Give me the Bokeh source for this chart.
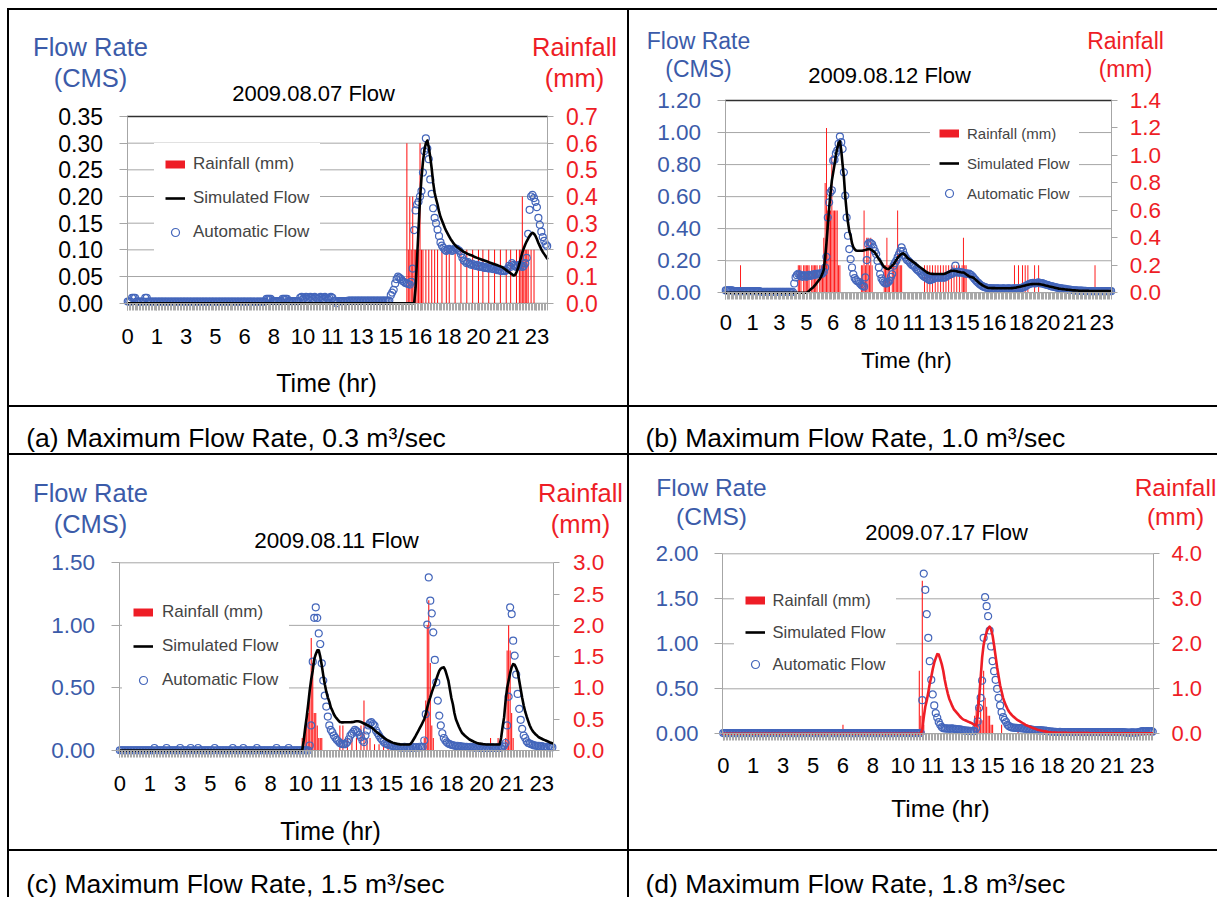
from bokeh.plotting import figure
from bokeh.models import (Range1d, LinearAxis, FixedTicker, Label, Legend, LegendItem, Div)
from bokeh.layouts import column, row
from bokeh.embed import file_html
from bokeh.resources import INLINE

FONT = "Liberation Sans"
BLUE = "#3B5BA9"
RED = "#EE1D26"
BAR = "#FF1010"
GRID = "#A6A6A6"
TICKC = "#A8A8A8"
DOT = "#4466BB"

N = 288                      # 5-minute steps over 24 h
KS = list(range(N))
X_TICKS = list(range(0, N, 20))
X_LABELS = ["0", "1", "3", "5", "6", "8", "10", "11", "13", "15", "16", "18", "20", "21", "23"]

# ---------------- (a) 2009.08.07 ----------------
A_LEFT = ["0.00", "0.05", "0.10", "0.15", "0.20", "0.25", "0.30", "0.35"]
A_RIGHT = ["0.0", "0.1", "0.2", "0.3", "0.4", "0.5", "0.6", "0.7"]
rain_a = [0.0]*191 + [
    0.6, 0.2, 0.4, 0.2, 0.4, 0.2, 0.2, 0.2, 0.2, 0.6,
    0.2, 0.2, 0, 0.2, 0, 0.2, 0, 0.2, 0, 0.2,
    0, 0.2, 0, 0, 0.2, 0, 0, 0.2, 0, 0.2,
    0, 0, 0, 0.2, 0, 0, 0, 0.2, 0, 0,
    0, 0.2, 0, 0, 0, 0.2, 0, 0, 0, 0.2,
    0, 0, 0.2, 0, 0, 0, 0.2, 0, 0, 0,
    0.2, 0, 0, 0, 0.2, 0, 0, 0, 0.2, 0,
    0, 0.2, 0, 0, 0, 0.2, 0, 0.2, 0.2, 0.4,
    0.2, 0.2, 0.2, 0.2, 0, 0.2, 0, 0.2, 0, 0,
    0, 0, 0, 0, 0, 0, 0]
sim_a = [0.0]*197 + [
    0.03, 0.085, 0.14, 0.195, 0.235, 0.265, 0.287, 0.3, 0.305, 0.292,
    0.274, 0.252, 0.226, 0.207, 0.195, 0.185, 0.172, 0.162, 0.155, 0.148,
    0.141, 0.135, 0.13, 0.125, 0.12, 0.116, 0.112, 0.109, 0.106, 0.104,
    0.102, 0.1, 0.098, 0.096, 0.095, 0.093, 0.092, 0.091, 0.09, 0.089,
    0.087, 0.086, 0.085, 0.084, 0.083, 0.082, 0.081, 0.08, 0.079, 0.078,
    0.077, 0.076, 0.075, 0.074, 0.073, 0.072, 0.071, 0.07, 0.069, 0.068,
    0.066, 0.064, 0.062, 0.06, 0.058, 0.056, 0.054, 0.052, 0.053, 0.058,
    0.065, 0.074, 0.085, 0.095, 0.103, 0.11, 0.116, 0.121, 0.126, 0.13,
    0.132, 0.13, 0.126, 0.12, 0.113, 0.107, 0.101, 0.096, 0.092, 0.088,
    0.084]
auto_a = ([0.003]*3 + [0.01]*3 + [0.003]*6 + [0.01]*2 + [0.003]*81 + [0.008]*4
          + [0.004]*7 + [0.008]*4 + [0.004]*8
          + [0.01, 0.012, 0.008, 0.01, 0.012, 0.008, 0.01, 0.012, 0.01, 0.008, 0.012, 0.01,
             0.008, 0.01, 0.012, 0.01, 0.008, 0.012, 0.01, 0.008, 0.01, 0.012, 0.01]
          + [0.004, 0.004, 0.0] + [0.004]*7 + [0.005]*29 + [
    0.015, 0.02, 0.025, 0.037, 0.045, 0.05, 0.048, 0.045, 0.042, 0.04,
    0.038, 0.037, 0.036, 0.035, 0.04, 0.065, 0.137, 0.174, 0.185, 0.19,
    0.2, 0.21, 0.245, 0.285, 0.309, 0.29, 0.27, 0.232, 0.205, 0.178,
    0.16, 0.15, 0.138, 0.126, 0.114, 0.108, 0.104, 0.1, 0.098, 0.1,
    0.102, 0.1, 0.098, 0.1, 0.103, 0.102, 0.1, 0.098, 0.092, 0.085,
    0.08, 0.078, 0.075, 0.077, 0.074, 0.072, 0.074, 0.071, 0.07, 0.072,
    0.069, 0.068, 0.07, 0.068, 0.066, 0.068, 0.066, 0.065, 0.067, 0.065,
    0.064, 0.066, 0.064, 0.062, 0.063, 0.061, 0.06, 0.062, 0.06, 0.062,
    0.065, 0.07, 0.068, 0.075, 0.072, 0.07, 0.068, 0.07, 0.072, 0.07,
    0.068, 0.07, 0.075, 0.085, 0.13, 0.175, 0.2, 0.203, 0.197, 0.19,
    0.18, 0.16, 0.147, 0.134, 0.124, 0.117, 0.11, 0.107])

# ---------------- (b) 2009.08.12 ----------------
B_LEFT = ["0.00", "0.20", "0.40", "0.60", "0.80", "1.00", "1.20"]
B_RIGHT = ["0.0", "0.2", "0.4", "0.6", "0.8", "1.0", "1.2", "1.4"]
rain_b = ([0.0]*11 + [0.2] + [0.0]*42 + [
    0.2, 0.2, 0.2, 0, 0.2, 0.2, 0.2, 0.2, 0.2, 0, 0.2, 0.2, 0.2, 0.2, 0.2, 0,
    0.2, 0.2, 0.2, 0.4, 0.8, 1.2, 0.6, 0.6, 0.6, 1.0, 0.6, 0.6, 0.6, 0.6, 0.2, 0.2]
    + [0.0]*15 + [0.2, 0.2, 0.6, 0.2, 0.4, 0.4, 0.2, 0.4, 0.2]
    + [0.0]*8 + [0.2, 0.2, 0.4, 0.2, 0.2, 0, 0.2, 0.2, 0.2, 0.2, 0.6, 0.2, 0.2, 0.2]
    + [0.0]*16 + [0.2, 0, 0.2, 0, 0.2, 0, 0.2, 0, 0.2, 0, 0.2, 0, 0.2, 0, 0.2, 0,
                  0.2, 0, 0.2, 0, 0.2, 0, 0.2, 0, 0.2, 0, 0.2, 0, 0.2, 0.4, 0.2, 0.2]
    + [0.0]*35 + [0.2, 0, 0, 0.2, 0, 0, 0.2, 0, 0.2, 0, 0.2, 0, 0, 0, 0, 0.2, 0, 0, 0.2]
    + [0.0]*41 + [0.2] + [0.0]*12)
sim_b = [0.0]*61 + [
    0.005, 0.012, 0.02, 0.027, 0.033, 0.043, 0.053, 0.064, 0.075, 0.085,
    0.1, 0.12, 0.145, 0.22, 0.31, 0.42, 0.53, 0.62, 0.7, 0.75,
    0.8, 0.86, 0.9, 0.935, 0.946, 0.89, 0.8, 0.72, 0.6, 0.51,
    0.44, 0.385, 0.356, 0.31, 0.285, 0.272, 0.264, 0.262, 0.262, 0.262,
    0.262, 0.263, 0.265, 0.267, 0.27, 0.272, 0.273, 0.27, 0.265, 0.258,
    0.252, 0.238, 0.224, 0.21, 0.2, 0.186, 0.172, 0.16, 0.155, 0.15,
    0.148, 0.152, 0.162, 0.17, 0.179, 0.19, 0.205, 0.218, 0.228, 0.237,
    0.243, 0.246, 0.24, 0.232, 0.221, 0.214, 0.208, 0.202, 0.196, 0.19,
    0.184, 0.177, 0.171, 0.164, 0.158, 0.152, 0.146, 0.139, 0.133, 0.127,
    0.124, 0.121, 0.119, 0.118, 0.117, 0.117, 0.117, 0.117, 0.117, 0.117,
    0.117, 0.117, 0.119, 0.122, 0.126, 0.13, 0.134, 0.137, 0.138, 0.138,
    0.136, 0.134, 0.132, 0.13, 0.128, 0.127, 0.127, 0.122, 0.116, 0.11,
    0.104, 0.1, 0.098, 0.096, 0.09, 0.082, 0.075, 0.068, 0.06, 0.054,
    0.048, 0.043, 0.039, 0.035, 0.032, 0.03, 0.03, 0.029, 0.029, 0.029,
    0.028, 0.028, 0.028, 0.028, 0.028, 0.028, 0.028, 0.028, 0.028, 0.028,
    0.028, 0.028, 0.029, 0.03, 0.031, 0.032, 0.034, 0.036, 0.038, 0.04,
    0.042, 0.044, 0.046, 0.048, 0.05, 0.052, 0.053, 0.054, 0.055, 0.055,
    0.055, 0.055, 0.054, 0.053, 0.052, 0.05, 0.048, 0.046, 0.044, 0.042,
    0.04, 0.038, 0.036, 0.034, 0.032, 0.03, 0.028, 0.026, 0.025, 0.024,
    0.023, 0.022, 0.021, 0.02, 0.019, 0.018, 0.017, 0.016, 0.015, 0.015,
    0.014, 0.014, 0.013, 0.013, 0.013, 0.012, 0.012, 0.012, 0.012, 0.012,
    0.011, 0.011, 0.011, 0.011, 0.011, 0.011, 0.011, 0.011, 0.011, 0.011,
    0.011, 0.011, 0.011, 0.011, 0.011, 0.011, 0.011]
auto_b = [0.015]*6 + [0.01]*20 + [0.006]*25 + [
    0.058, 0.096, 0.11, 0.119, 0.112, 0.105, 0.1, 0.11, 0.105, 0.1,
    0.108, 0.112, 0.105, 0.11, 0.115, 0.11, 0.118, 0.115, 0.12, 0.118,
    0.122, 0.12, 0.13, 0.158, 0.225, 0.47, 0.564, 0.627, 0.64, 0.825,
    0.83, 0.87, 0.887, 0.93, 0.975, 0.94, 0.898, 0.752, 0.606, 0.47,
    0.356, 0.273, 0.21, 0.158, 0.117, 0.092, 0.08, 0.072, 0.069, 0.058,
    0.048, 0.042, 0.038, 0.096, 0.204, 0.304, 0.314, 0.31, 0.304, 0.283,
    0.26, 0.242, 0.2, 0.158, 0.117, 0.09, 0.075, 0.065, 0.058, 0.06,
    0.068, 0.075, 0.1, 0.117, 0.169, 0.185, 0.2, 0.221, 0.24, 0.26,
    0.283, 0.26, 0.235, 0.22, 0.205, 0.2, 0.19, 0.18, 0.172, 0.169,
    0.16, 0.148, 0.14, 0.135, 0.125, 0.115, 0.106, 0.1, 0.095, 0.09,
    0.085, 0.079, 0.082, 0.085, 0.09, 0.095, 0.096, 0.095, 0.095, 0.096,
    0.094, 0.096, 0.095, 0.1, 0.105, 0.11, 0.115, 0.118, 0.12, 0.13,
    0.169, 0.13, 0.125, 0.13, 0.125, 0.128, 0.125, 0.12, 0.122, 0.118,
    0.12, 0.115, 0.11, 0.1, 0.09, 0.08, 0.07, 0.062, 0.055, 0.048,
    0.042, 0.038, 0.035, 0.032, 0.03, 0.03, 0.028, 0.028, 0.027, 0.027,
    0.026, 0.027, 0.028, 0.026, 0.025, 0.027, 0.028, 0.026, 0.025, 0.027,
    0.028, 0.026, 0.025, 0.027, 0.028, 0.026, 0.027, 0.028, 0.03, 0.03,
    0.032, 0.035, 0.04, 0.045, 0.05, 0.055, 0.058, 0.06, 0.062, 0.058,
    0.06, 0.062, 0.065, 0.06, 0.058, 0.06, 0.055, 0.052, 0.05, 0.048,
    0.045, 0.042, 0.04, 0.038, 0.036, 0.034, 0.032, 0.03, 0.028, 0.027,
    0.026, 0.025, 0.024, 0.022, 0.02, 0.02, 0.018, 0.017, 0.016, 0.015,
    0.015, 0.014, 0.014, 0.013, 0.013, 0.012, 0.012, 0.012, 0.011, 0.011,
    0.011, 0.01, 0.01, 0.01, 0.01, 0.01, 0.01, 0.01, 0.01, 0.01,
    0.01, 0.01, 0.01, 0.01, 0.01, 0.01, 0.01]

# ---------------- (c) 2009.08.11 ----------------
C_LEFT = ["0.00", "0.50", "1.00", "1.50"]
C_RIGHT = ["0.0", "0.5", "1.0", "1.5", "2.0", "2.5", "3.0"]
rain_c = ([0.0]*121 + [0.2, 0.2, 0.4, 0.6, 0.6, 1.0, 1.8, 1.4, 0.6, 0.6, 0.4, 0.2, 0.2, 0.2]
          + [0.0]*11 + [0.4, 0, 0.4, 0, 0, 0.2, 0, 0, 0.2, 0, 0, 0.2, 0, 0, 0.4, 0, 0.8, 0,
                        0.2, 0, 0.2, 0, 0, 0.1, 0, 0, 0.1, 0, 0, 0.1, 0, 0, 0.1, 0, 0, 0.1]
          + [0.0]*20 + [0.2, 0.8, 2.0, 2.4, 1.4, 0.4, 0.2]
          + [0.0]*37 + [0.2, 0, 0, 0, 0, 0.2, 0, 0, 0, 0, 0.2, 1.6, 2.0, 1.6, 0.6, 0.2]
          + [0.0]*26)
sim_c = [0.0]*122 + [
    0.08, 0.18, 0.27, 0.37, 0.48, 0.57, 0.64, 0.73, 0.77, 0.8,
    0.8, 0.75, 0.68, 0.6, 0.53, 0.47, 0.425, 0.39, 0.345, 0.32,
    0.29, 0.27, 0.255, 0.24, 0.228, 0.225, 0.225, 0.226, 0.226, 0.226,
    0.226, 0.226, 0.227, 0.228, 0.232, 0.234, 0.234, 0.232, 0.228, 0.222,
    0.216, 0.21, 0.204, 0.198, 0.19, 0.184, 0.174, 0.163, 0.152, 0.142,
    0.133, 0.123, 0.113, 0.104, 0.095, 0.087, 0.08, 0.074, 0.068, 0.063,
    0.059, 0.056, 0.053, 0.051, 0.049, 0.048, 0.048, 0.048, 0.048, 0.048,
    0.048, 0.053, 0.07, 0.09, 0.11, 0.133, 0.155, 0.178, 0.2, 0.226,
    0.25, 0.29, 0.345, 0.39, 0.425, 0.465, 0.5, 0.532, 0.57, 0.605,
    0.638, 0.655, 0.662, 0.665, 0.64, 0.6, 0.559, 0.49, 0.42, 0.37,
    0.3, 0.25, 0.22, 0.19, 0.165, 0.142, 0.13, 0.118, 0.108, 0.098,
    0.088, 0.082, 0.076, 0.07, 0.065, 0.06, 0.057, 0.055, 0.053, 0.051,
    0.05, 0.048, 0.048, 0.048, 0.048, 0.048, 0.048, 0.048, 0.048, 0.048,
    0.048, 0.1, 0.19, 0.266, 0.4, 0.5, 0.56, 0.62, 0.665, 0.69,
    0.685, 0.66, 0.63, 0.56, 0.49, 0.42, 0.36, 0.31, 0.27, 0.235,
    0.2, 0.175, 0.155, 0.14, 0.127, 0.117, 0.106, 0.1, 0.094, 0.088,
    0.083, 0.078, 0.073, 0.066, 0.062, 0.058]
auto_c = ([0.002]*23 + [0.02] + [0.002]*7 + [0.02] + [0.002]*8 + [0.02] + [0.002]*6 + [0.02]
          + [0.002]*4 + [0.02] + [0.002]*10 + [0.02] + [0.002]*11 + [0.02] + [0.002]*6 + [0.02]
          + [0.002]*8 + [0.02] + [0.002]*12 + [0.02] + [0.002]*7 + [0.02] + [0.002]*13 + [
    0.04, 0.2, 0.71, 1.06, 1.144, 1.06, 0.936, 0.851, 0.697, 0.559,
    0.439, 0.351, 0.271, 0.2, 0.165, 0.146, 0.12, 0.101, 0.085, 0.074,
    0.06, 0.053, 0.05, 0.05, 0.055, 0.067, 0.09, 0.12, 0.133, 0.15,
    0.165, 0.155, 0.146, 0.125, 0.106, 0.08, 0.067, 0.12, 0.16, 0.2,
    0.218, 0.226, 0.21, 0.2, 0.16, 0.14, 0.12, 0.1, 0.085, 0.07,
    0.058, 0.052, 0.046, 0.042, 0.04, 0.036, 0.03, 0.028, 0.03, 0.025,
    0.028, 0.022, 0.025, 0.03, 0.022, 0.028, 0.025, 0.02, 0.03, 0.022,
    0.025, 0.028, 0.022, 0.03, 0.025, 0.03, 0.08, 0.29, 1.006, 1.383,
    1.197, 1.096, 0.944, 0.724, 0.545, 0.399, 0.279, 0.2, 0.138, 0.1,
    0.08, 0.065, 0.055, 0.05, 0.045, 0.042, 0.04, 0.035, 0.038, 0.03,
    0.035, 0.03, 0.032, 0.028, 0.03, 0.025, 0.028, 0.03, 0.025, 0.022,
    0.025, 0.028, 0.022, 0.025, 0.02, 0.025, 0.022, 0.02, 0.025, 0.022,
    0.02, 0.025, 0.022, 0.02, 0.022, 0.025, 0.02, 0.022, 0.03, 0.04,
    0.06, 0.2, 0.43, 1.144, 1.09, 0.878, 0.758, 0.607, 0.452, 0.333,
    0.245, 0.173, 0.12, 0.1, 0.074, 0.06, 0.055, 0.05, 0.045, 0.04,
    0.04, 0.035, 0.038, 0.03, 0.035, 0.03, 0.028, 0.03, 0.025, 0.035,
    0.03, 0.025])

# ---------------- (d) 2009.07.17 ----------------
D_LEFT = ["0.00", "0.50", "1.00", "1.50", "2.00"]
D_RIGHT = ["0.0", "1.0", "2.0", "3.0", "4.0"]
rain_d = ([0.0]*80 + [0.2] + [0.0]*50 + [1.4, 0.4, 3.4, 0.2] + [0.0]*33
          + [0.4, 0.6, 0.8, 0.3, 0.6, 0.3, 1.4, 0.8, 0.6, 0.4, 0.4, 0.2, 0.2]
          + [0.0]*5 + [0.2] + [0.0]*10 + [0.1] + [0.0]*90)
sim_d = [0.0]*133 + [
    0.05, 0.185, 0.3, 0.37, 0.46, 0.56, 0.63, 0.72, 0.79, 0.84,
    0.885, 0.88, 0.83, 0.774, 0.7, 0.6, 0.52, 0.45, 0.39, 0.35,
    0.31, 0.275, 0.255, 0.235, 0.215, 0.195, 0.178, 0.163, 0.155, 0.148,
    0.14, 0.133, 0.126, 0.118, 0.108, 0.098, 0.092, 0.2, 0.4, 0.62,
    0.85, 0.99, 1.07, 1.13, 1.17, 1.19, 1.16, 1.09, 0.98, 0.86,
    0.74, 0.64, 0.54, 0.47, 0.4, 0.35, 0.31, 0.275, 0.245, 0.225,
    0.205, 0.19, 0.175, 0.16, 0.15, 0.14, 0.13, 0.12, 0.11, 0.1,
    0.092, 0.085, 0.078, 0.071, 0.065, 0.058, 0.052, 0.046, 0.041, 0.037,
    0.033, 0.03, 0.027, 0.024, 0.021, 0.018, 0.016, 0.015, 0.014, 0.013,
    0.012, 0.012, 0.011, 0.011, 0.01, 0.01, 0.01, 0.009, 0.009, 0.009,
    0.009, 0.008, 0.008, 0.008, 0.008, 0.008, 0.007, 0.007, 0.007, 0.007,
    0.007, 0.007, 0.006, 0.006, 0.006, 0.006, 0.006, 0.006, 0.006, 0.006,
    0.006, 0.006] + [0.005]*33
auto_d = [0.008]*132 + [
    0.01, 0.374, 1.78, 1.6, 1.33, 1.066, 0.807, 0.6, 0.437, 0.315,
    0.23, 0.18, 0.13, 0.1, 0.075, 0.063, 0.06, 0.058, 0.06, 0.055,
    0.058, 0.06, 0.055, 0.055, 0.052, 0.05, 0.05, 0.048, 0.04, 0.038,
    0.035, 0.035, 0.033, 0.033, 0.03, 0.03, 0.03, 0.06, 0.137, 0.289,
    0.4, 0.59, 1.066, 1.518, 1.418, 1.307, 1.148, 0.97, 0.807, 0.696,
    0.6, 0.5, 0.4, 0.315, 0.24, 0.185, 0.155, 0.13, 0.1, 0.085,
    0.075, 0.07, 0.068, 0.065, 0.066, 0.064, 0.062, 0.063, 0.06, 0.058,
    0.056, 0.055, 0.052, 0.05, 0.048, 0.045, 0.042, 0.04, 0.04, 0.038,
    0.04, 0.038, 0.036, 0.035, 0.033, 0.03, 0.028, 0.025, 0.025, 0.022,
    0.022, 0.02, 0.02, 0.022, 0.02, 0.018, 0.02, 0.02, 0.018, 0.02,
    0.02, 0.018, 0.02, 0.02, 0.018, 0.02, 0.02, 0.018, 0.02, 0.02,
    0.018, 0.02, 0.02, 0.018, 0.02, 0.02, 0.018, 0.02, 0.02, 0.018,
    0.02, 0.02, 0.018, 0.02, 0.02, 0.018, 0.02, 0.02, 0.018, 0.02,
    0.02, 0.018, 0.02, 0.02, 0.018, 0.02, 0.015, 0.015, 0.012, 0.012,
    0.012, 0.015, 0.015, 0.012, 0.012, 0.015, 0.02, 0.025, 0.03, 0.03,
    0.025, 0.03, 0.03, 0.025, 0.03, 0.025]

TITLES = ["2009.08.07 Flow", "2009.08.12 Flow", "2009.08.11 Flow", "2009.07.17 Flow"]
CAPTIONS = ["(a) Maximum Flow Rate, 0.3 m\u00b3/sec", "(b) Maximum Flow Rate, 1.0 m\u00b3/sec",
            "(c) Maximum Flow Rate, 1.5 m\u00b3/sec", "(d) Maximum Flow Rate, 1.8 m\u00b3/sec"]

for name, arr in [("rain_a", rain_a), ("sim_a", sim_a), ("auto_a", auto_a),
                  ("rain_b", rain_b), ("sim_b", sim_b), ("auto_b", auto_b),
                  ("rain_c", rain_c), ("sim_c", sim_c), ("auto_c", auto_c),
                  ("rain_d", rain_d), ("sim_d", sim_d), ("auto_d", auto_d)]:
    if len(arr) != N:
        raise SystemExit(f"{name} has {len(arr)} values")

# page geometry (pixels). frame = plot-area edges (left, right, top, bottom)
PANELS = [
    dict(ox=9, oy=10, W=618, H=395, frame=(126.5, 547.4, 116, 302.7),
         left=A_LEFT, right=A_RIGHT, rain=rain_a, sim=sim_a, auto=auto_a, simc="black",
         lcol="black", title=TITLES[0], topdark=True,
         flow=(90, 46, 77), rainlab=(574, 46, 77), tpos=(313, 93), xlab=(326, 382),
         fs_ax=25.5, fs_t=22, fs_x=25, fs_tick=23, fs_leg=17, ls=16, rs=12, xs=19,
         leg=(154, 253, 10, 14, 8)),
    dict(ox=629, oy=10, W=588, H=395, frame=(724.6, 1111.3, 100, 292.3),
         left=B_LEFT, right=B_RIGHT, rain=rain_b, sim=sim_b, auto=auto_b, simc="black",
         lcol=BLUE, title=TITLES[1], topdark=True,
         flow=(698, 40, 68), rainlab=(1125, 40, 68), tpos=(889, 75), xlab=(906, 360),
         fs_ax=23, fs_t=22, fs_x=22.5, fs_tick=22.5, fs_leg=15, ls=16, rs=12, xs=15,
         leg=(930, 212, 8, 10, 8)),
    dict(ox=9, oy=455, W=618, H=394, frame=(118.6, 552.6, 562.3, 750),
         left=C_LEFT, right=C_RIGHT, rain=rain_c, sim=sim_c, auto=auto_c, simc="black",
         lcol=BLUE, title=TITLES[2], topdark=False,
         flow=(90, 492, 523), rainlab=(580, 492, 523), tpos=(336, 540), xlab=(330, 830),
         fs_ax=25.5, fs_t=22.5, fs_x=25, fs_tick=22.5, fs_leg=17, ls=16, rs=14, xs=18,
         leg=(122, 701, 10, 14, 9)),
    dict(ox=629, oy=455, W=588, H=394, frame=(722, 1153, 553.3, 733.3),
         left=D_LEFT, right=D_RIGHT, rain=rain_d, sim=sim_d, auto=auto_d, simc=RED,
         lcol=BLUE, title=TITLES[3], topdark=False,
         flow=(711, 487, 516), rainlab=(1175, 487, 516), tpos=(946, 532), xlab=(940, 808),
         fs_ax=24.5, fs_t=22, fs_x=24.5, fs_tick=22, fs_leg=16.5, ls=16, rs=12, xs=17,
         leg=(733.6, 685, 10, 12, 8)),
]


def chart(c):
    ox, oy, W, H = c["ox"], c["oy"], c["W"], c["H"]
    fl, fr, ft, fb = c["frame"]
    yv = [float(s) for s in c["left"]]
    rv = [float(s) for s in c["right"]]
    ymax, rmax = yv[-1], rv[-1]
    # whole canvas is the frame; the plot area sits inside it via the ranges
    sx = (fr - fl) / N
    x0 = -0.5 - (fl - ox) / sx
    sy = (fb - ft) / ymax
    y0 = -(oy + H - fb) / sy
    sr = (fb - ft) / rmax
    r0 = -(oy + H - fb) / sr
    p = figure(width=W, height=H, x_range=Range1d(x0, x0 + W / sx),
               y_range=Range1d(y0, y0 + H / sy), output_backend="svg",
               toolbar_location=None, x_axis_location=None, y_axis_location=None,
               min_border=0, outline_line_color=None,
               background_fill_color="white", border_fill_color="white")
    p.grid.visible = False
    p.extra_y_ranges = {"rain": Range1d(r0, r0 + H / sr)}
    xa0, xa1 = -0.5, N - 0.5

    # horizontal grid lines at the left-axis ticks
    p.segment(x0=[xa0]*len(yv), x1=[xa1]*len(yv), y0=yv, y1=yv,
              line_color=GRID, line_width=1)

    la = LinearAxis(fixed_location=xa0, bounds=(0, ymax), ticker=FixedTicker(ticks=yv),
                    major_label_overrides=dict(zip(yv, c["left"])),
                    axis_line_color=GRID, major_tick_line_color=GRID, major_tick_out=8,
                    major_tick_in=0, minor_tick_line_color=None,
                    major_label_text_font=FONT, major_label_text_font_size=f"{c['fs_tick']}px",
                    major_label_text_color=c["lcol"], major_label_standoff=c["ls"])
    p.add_layout(la, "left")
    ra = LinearAxis(y_range_name="rain", fixed_location=xa1, bounds=(0, rmax),
                    ticker=FixedTicker(ticks=rv),
                    major_label_overrides=dict(zip(rv, c["right"])),
                    axis_line_color=GRID, major_tick_line_color=GRID, major_tick_out=6,
                    major_tick_in=0, minor_tick_line_color=None,
                    major_label_text_font=FONT, major_label_text_font_size=f"{c['fs_tick']}px",
                    major_label_text_color=RED, major_label_standoff=c["rs"])
    p.add_layout(ra, "right")
    xa = LinearAxis(fixed_location=0, bounds=(xa0, xa1),
                    ticker=FixedTicker(ticks=X_TICKS, minor_ticks=KS),
                    major_label_overrides=dict(zip(X_TICKS, X_LABELS)),
                    axis_line_color=GRID, major_tick_line_color=TICKC, minor_tick_line_color=TICKC,
                    major_tick_out=7, major_tick_in=0, minor_tick_out=7, minor_tick_in=0,
                    major_label_text_font=FONT, major_label_text_font_size="22px",
                    major_label_text_color="black", major_label_standoff=c["xs"])
    p.add_layout(xa, "below")
    if c["topdark"]:
        # dark upper border of the plot area, drawn as a bounded segment
        p.segment(x0=[xa0], x1=[xa1], y0=[ymax], y1=[ymax],
                  line_color="#303030", line_width=1.5)

    rk = [k for k in KS if c["rain"][k] > 0]
    p.vbar(x=rk, top=[c["rain"][k] for k in rk], width=0.7, bottom=0,
           y_range_name="rain", fill_color=BAR, line_color=None)
    sc = p.scatter(KS, c["auto"], marker="circle", size=7, fill_color=None,
                   line_color=DOT, line_width=1.2)
    p.line(KS, c["sim"], line_color=c["simc"], line_width=2.6,
           line_join="round", line_cap="round")

    # legend swatches (kept outside the visible ranges so only the legend shows them)
    off_x = [x0 - 20, x0 - 10]
    off_y = [y0 - 10, y0 - 10]
    dr = p.line(x=off_x, y=off_y, line_color=RED, line_width=8)
    ds = p.line(x=off_x, y=off_y, line_color="black", line_width=2.6)
    lx, lb, pad, sp, st = c["leg"]
    leg = Legend(items=[LegendItem(label="Rainfall (mm)", renderers=[dr]),
                        LegendItem(label="Simulated Flow", renderers=[ds]),
                        LegendItem(label="Automatic Flow", renderers=[sc])],
                 location=(lx - ox, oy + H - lb), padding=pad, spacing=sp,
                 glyph_width=20, glyph_height=20, label_height=20, label_standoff=st,
                 label_text_font=FONT, label_text_font_size=f"{c['fs_leg']}px",
                 border_line_color="white", border_line_width=1,
                 background_fill_color="white", background_fill_alpha=1.0, margin=0)
    p.add_layout(leg)

    def lab(X, Y, text, size, color):
        p.add_layout(Label(x=X - ox, y=oy + H - Y, x_units="screen", y_units="screen",
                           text=text, text_align="center", text_baseline="middle",
                           text_font=FONT, text_font_size=f"{size}px", text_color=color))

    X, y1, y2 = c["flow"]
    lab(X, y1, "Flow Rate", c["fs_ax"], BLUE)
    lab(X, y2, "(CMS)", c["fs_ax"], BLUE)
    X, y1, y2 = c["rainlab"]
    lab(X, y1, "Rainfall", c["fs_ax"], RED)
    lab(X, y2, "(mm)", c["fs_ax"], RED)
    lab(c["tpos"][0], c["tpos"][1], c["title"], c["fs_t"], "black")
    lab(c["xlab"][0], c["xlab"][1], "Time (hr)", c["fs_x"], "black")
    return p


def caption(w, h, text, x, y_from_top):
    p = figure(width=w, height=h, output_backend="svg", toolbar_location=None,
               x_axis_location=None, y_axis_location=None, min_border=0,
               background_fill_color="white", border_fill_color="white",
               outline_line_color=None, x_range=Range1d(0, w), y_range=Range1d(0, h))
    p.grid.visible = False
    p.add_layout(Label(x=x, y=h - y_from_top, x_units="screen", y_units="screen", text=text,
                       text_align="left", text_baseline="middle", text_font=FONT,
                       text_font_size="26.5px", text_color="black"))
    return p


def box(w, h, color=None):
    styles = {"background-color": color} if color else {}
    return Div(text="", width=w, height=h, margin=0, styles=styles)


def hline():
    return row(box(7, 2), box(1210, 2, "black"))


figs = [chart(c) for c in PANELS]
layout = column(
    box(1217, 8),
    hline(),
    row(box(7, 395), box(2, 395, "black"), figs[0], box(2, 395, "black"), figs[1]),
    hline(),
    row(box(7, 46), box(2, 46, "black"), caption(618, 46, CAPTIONS[0], 16.7, 30),
        box(2, 46, "black"), caption(588, 46, CAPTIONS[1], 16, 30)),
    hline(),
    row(box(7, 394), box(2, 394, "black"), figs[2], box(2, 394, "black"), figs[3]),
    hline(),
    row(box(7, 46), box(2, 46, "black"), caption(618, 46, CAPTIONS[2], 16.7, 32),
        box(2, 46, "black"), caption(588, 46, CAPTIONS[3], 16, 32)),
)

open("out.html", "w").write(file_html(layout, INLINE))
